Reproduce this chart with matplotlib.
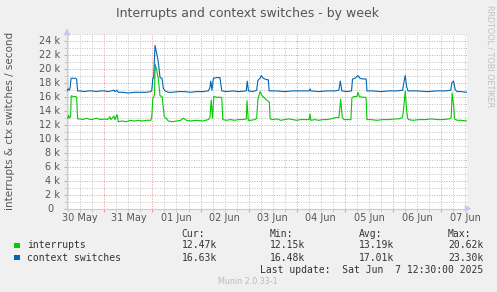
import matplotlib
matplotlib.use('Agg')
import matplotlib.pyplot as plt
from matplotlib.ticker import MultipleLocator, FuncFormatter

# ---- data (hours since 30 May 00:00, values in thousands per second) ----
int_hours = [5.4, 5.9, 6.2, 6.6, 7.2, 7.5, 8.5, 9.5, 10.2, 10.7, 12, 13.5, 15, 16, 17.5, 19, 20, 21,
             22.5, 24, 25.5, 26.8, 27.3, 28.8, 29.3, 30.3, 30.7, 31.0, 33, 35, 37, 39, 41, 43, 45,
             47.2, 47.7, 48.2, 49.0, 49.4, 50.1, 50.9, 51.8, 52.8, 53.4, 53.9, 54.8, 55.9, 58, 60,
             62, 63.5, 65, 67, 70, 73, 75.9, 76.7, 77.3, 78.0, 78.6, 80, 81.7, 82.6, 83.1, 85, 87,
             89, 91, 93, 94.8, 95.2, 95.8, 97, 99, 100.0, 100.6, 101.7, 102.5, 104.2, 105.8, 106.3,
             106.7, 108, 110, 112, 114, 116, 118, 120, 122, 124, 126.2, 126.6, 127.0, 129, 131, 133,
             135, 137, 139.5, 141.0, 141.9, 142.7, 143.6, 145, 147, 147.5, 148.5, 150.0, 150.5,
             151.2, 152.5, 154.1, 154.6, 155.0, 157, 160, 163, 166, 169, 171, 172.7, 173.2, 174.1,
             174.8, 175.3, 175.7, 178, 181, 184, 187, 190, 193, 196, 197.0, 197.5, 198.2, 198.7,
             200, 202, 204.8]
int_values = [12.9, 13.0, 13.3, 12.9, 13.2, 16.1, 16.0, 16.0, 15.9, 12.8, 12.8, 12.7, 12.9, 12.8,
              12.7, 12.8, 12.9, 12.8, 12.7, 12.8, 12.7, 13.1, 12.7, 13.2, 12.7, 13.4, 12.8, 12.4,
              12.5, 12.4, 12.6, 12.5, 12.6, 12.5, 12.6, 12.6, 13.1, 15.7, 16.2, 20.6, 19.8, 18.6,
              16.1, 16.0, 14.5, 13.1, 12.9, 12.5, 12.4, 12.5, 12.6, 12.9, 12.6, 12.5, 12.6, 12.5,
              12.7, 13.0, 15.5, 12.9, 16.0, 15.9, 15.9, 15.8, 12.7, 12.6, 12.7, 12.6, 12.7, 12.7,
              12.8, 15.4, 12.6, 12.6, 12.7, 12.9, 15.6, 16.7, 16.2, 15.7, 15.3, 15.2, 12.8, 12.7,
              12.8, 12.6, 12.7, 12.8, 12.7, 12.6, 12.7, 12.7, 12.7, 13.5, 12.6, 12.7, 12.6, 12.7,
              12.7, 12.8, 13.0, 13.0, 15.6, 13.0, 12.7, 12.7, 12.7, 15.8, 16.0, 16.0, 16.6, 16.0,
              15.9, 15.9, 15.7, 12.7, 12.7, 12.6, 12.7, 12.7, 12.8, 12.8, 13.0, 14.0, 16.8, 14.0,
              12.9, 12.7, 12.6, 12.7, 12.7, 12.8, 12.7, 12.7, 12.8, 13.0, 16.5, 14.8, 12.8, 12.6,
              12.6, 12.5]

cs_hours = [5.4, 6.0, 6.5, 7.0, 7.4, 8.5, 9.5, 10.2, 10.7, 12, 14, 16, 18, 20, 22, 24, 26, 28.8,
            29.3, 30.3, 31.0, 33, 36, 39, 42, 45, 47.2, 47.7, 48.2, 48.6, 49.3, 50.1, 50.9, 51.5,
            51.8, 52.8, 53.4, 54.3, 55.9, 58, 61, 64, 67, 70, 73, 75.9, 76.7, 77.1, 77.7, 78.4,
            80, 81.7, 82.6, 85, 88, 91, 94.8, 95.3, 95.9, 98, 100.0, 100.6, 101.7, 102.3, 103.3,
            105.0, 105.8, 106.2, 110, 114, 118, 122, 126.2, 126.6, 127.0, 131, 135, 139, 141.0,
            141.7, 142.5, 145, 147.3, 147.8, 149, 150.5, 151.5, 153, 154.6, 155.0, 158, 162, 166,
            170, 172.8, 173.4, 174.1, 174.8, 175.5, 180, 185, 190, 194, 196.8, 197.4, 198.2,
            199.0, 199.9, 202, 204.8]
cs_values = [16.8, 17.1, 16.9, 17.3, 18.6, 18.6, 18.6, 18.5, 16.8, 16.8, 16.7, 16.8, 16.8, 16.7,
             16.8, 16.8, 16.7, 16.9, 16.7, 16.9, 16.6, 16.6, 16.5, 16.6, 16.6, 16.6, 16.7, 16.9,
             18.6, 18.6, 23.3, 22.2, 21.0, 19.5, 18.7, 18.6, 17.2, 16.8, 16.6, 16.6, 16.7, 16.7,
             16.6, 16.7, 16.7, 16.8, 17.3, 18.2, 16.9, 18.6, 18.7, 18.7, 16.8, 16.7, 16.8, 16.7,
             16.8, 18.2, 16.8, 16.7, 16.9, 18.3, 18.6, 19.0, 18.6, 18.4, 18.4, 16.8, 16.8, 16.7,
             16.8, 16.8, 16.8, 17.1, 16.8, 16.7, 16.8, 16.8, 16.9, 18.2, 16.8, 16.7, 16.8, 18.5,
             18.6, 19.0, 18.6, 18.5, 18.5, 16.8, 16.8, 16.7, 16.8, 16.8, 16.9, 18.0, 19.0, 17.4,
             16.8, 16.8, 16.7, 16.8, 16.8, 16.9, 18.0, 18.2, 17.0, 16.7, 16.7, 16.6]

day_labels = ['30 May', '31 May', '01 Jun', '02 Jun', '03 Jun', '04 Jun', '05 Jun', '06 Jun', '07 Jun']
series_names = ['interrupts', 'context switches']
series_colors = ['#00CC00', '#0066B3']
stat_headers = ['Cur:', 'Min:', 'Avg:', 'Max:']
interrupts_stats = ['12.47k', '12.15k', '13.19k', '20.62k']
cs_stats = ['16.63k', '16.48k', '17.01k', '23.30k']

W, H = 497, 292
fig = plt.figure(figsize=(W / 100, H / 100), dpi=100, facecolor='#F0F0F0')

def fx(x):
    return x / W

def fy(y):
    return 1 - y / H

L, R, T, B = 67, 467, 33.5, 208.5
ax = fig.add_axes([fx(L), fy(B), (R - L) / W, (B - T) / H])
ax.set_facecolor('white')
ax.set_xlim(5.4, 204.9)
ax.set_ylim(0, 25)

# grid
major_c = '#F09898'
minor_c = '#C4C4C4'
ax.xaxis.set_major_locator(MultipleLocator(24))
ax.xaxis.set_minor_locator(MultipleLocator(6))
ax.yaxis.set_major_locator(MultipleLocator(2))
ax.yaxis.set_minor_locator(MultipleLocator(1))
ax.grid(which='minor', color=minor_c, linestyle=(0, (1, 1.5)), linewidth=0.7)
ax.grid(which='major', color=major_c, linestyle=(0, (1, 1.5)), linewidth=0.7)
ax.set_axisbelow(True)

ax.plot(int_hours, int_values, color=series_colors[0], linewidth=0.8, zorder=3)
ax.plot(cs_hours, cs_values, color=series_colors[1], linewidth=0.8, zorder=3)

for s in ['top', 'right']:
    ax.spines[s].set_visible(False)
axis_c = '#C8C8F0'
ax.spines['left'].set_color(axis_c)
ax.spines['bottom'].set_color(axis_c)
ax.spines['left'].set_linewidth(0.8)
ax.spines['bottom'].set_linewidth(0.8)

# arrows on axes
ax.annotate('', xy=(fx(L), fy(26)), xytext=(fx(L), fy(T)), xycoords='figure fraction',
            arrowprops=dict(arrowstyle='-|>,head_length=0.35,head_width=0.2', color=axis_c, lw=0.8))
ax.annotate('', xy=(fx(474), fy(B)), xytext=(fx(R), fy(B)), xycoords='figure fraction',
            arrowprops=dict(arrowstyle='-|>,head_length=0.35,head_width=0.2', color=axis_c, lw=0.8))

# y tick labels
ax.yaxis.set_major_formatter(FuncFormatter(lambda v, p: '0  ' if v == 0 else '%d k' % v))
ax.tick_params(axis='y', which='major', length=2, color=major_c, labelsize=7, labelcolor='#555555', pad=3)
ax.tick_params(axis='y', which='minor', length=2, color=minor_c)
ax.tick_params(axis='x', which='major', length=2, color=major_c)
ax.tick_params(axis='x', which='minor', length=2, color=minor_c)
ax.set_xticklabels([])
for i, lab in enumerate(day_labels):
    ax.text(12 + 24 * i, -0.025, lab, transform=ax.get_xaxis_transform(), ha='center', va='top',
            fontsize=7, color='#555555')

fig.text(fx(248), fy(13), 'Interrupts and context switches - by week', ha='center', va='center',
         fontsize=9, color='#555555')
fig.text(fx(10), fy(121), 'interrupts & ctx switches / second', rotation=90, ha='center',
         va='center', fontsize=7.5, color='#555555')
fig.text(fx(490), fy(56), 'RRDTOOL / TOBI OETIKER', rotation=270, ha='center', va='center',
         fontsize=5.8, color='#C0C0C0')

mono = 'DejaVu Sans Mono'
fs = 7
tc = '#333333'
cols = [181.7, 270, 358.7, 448]
for c, h in zip(cols, stat_headers):
    fig.text(fx(c), fy(233.7), h, family=mono, fontsize=fs, color=tc, va='center')
rows = [245.3, 257.7]
for ry, name, colr, stats in zip(rows, series_names, series_colors, [interrupts_stats, cs_stats]):
    fig.patches.append(plt.Rectangle((fx(14), fy(ry + 2.7)), 5.5 / W, 5.5 / H, transform=fig.transFigure,
                                     facecolor=colr, edgecolor='none'))
    fig.text(fx(27), fy(ry), name, family=mono, fontsize=fs, color=tc, va='center')
    for c, v in zip(cols, stats):
        fig.text(fx(c), fy(ry), v, family=mono, fontsize=fs, color=tc, va='center')
fig.text(fx(483.3), fy(269.7), 'Last update:  Sat Jun  7 12:30:00 2025', family=mono, fontsize=fs,
         color=tc, va='center', ha='right')
fig.text(fx(248), fy(281.3), 'Munin 2.0.33-1', fontsize=5.8, color='#BBBBBB', ha='center', va='center')

fig.savefig('out.png', dpi=100, facecolor=fig.get_facecolor())
